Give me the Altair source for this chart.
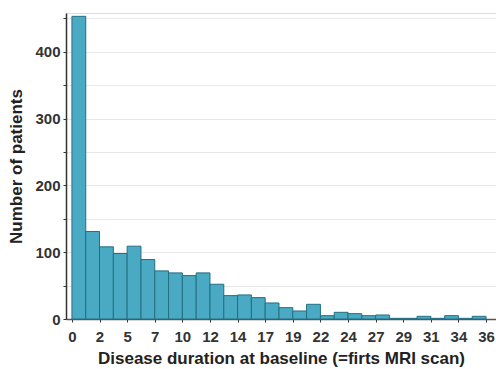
import altair as alt
import pandas as pd

counts = [453, 131, 108, 98, 109, 89, 72, 69, 65, 69, 52, 35, 36, 32, 24,
          17, 12, 22, 5, 10, 8, 5, 6, 1, 1, 4, 1, 5, 1, 4]
tick_labels = ["0", "2", "5", "7", "10", "12", "14", "17", "19", "22", "24",
               "27", "29", "31", "34", "36"]

df = pd.DataFrame({
    "start": list(range(len(counts))),
    "end": [i + 1 for i in range(len(counts))],
    "count": counts,
})

label_js = "[" + ",".join("'" + s + "'" for s in tick_labels) + "]"
font = "Liberation Sans"

bars = alt.Chart(df).mark_bar(
    color="#4aaac4", stroke="#236f82", strokeWidth=1, opacity=1
).encode(
    x=alt.X("start:Q",
            scale=alt.Scale(domain=[-0.43, 30.72], nice=False, zero=False),
            axis=alt.Axis(
                values=[2 * i for i in range(len(tick_labels))],
                labelExpr=label_js + "[datum.value/2]",
                title="Disease duration at baseline (=firts MRI scan)",
                grid=False, tickSize=3, labelPadding=7,
                labelFont=font, labelFontSize=15, labelFontWeight="bold",
                labelColor="#333333", titleFont=font, titleFontSize=17,
                titleFontWeight="bold", titleColor="#222222", titlePadding=6,
                domainColor="#555555", domainWidth=1.5, tickColor="#333333",
                labelFlush=False, labelOverlap=False)),
    x2="end:Q",
    y=alt.Y("count:Q",
            scale=alt.Scale(domain=[0, 458], nice=False),
            axis=alt.Axis(
                values=[50 * i for i in range(10)],
                labelExpr="datum.value % 100 == 0 ? datum.label : ''",
                title="Number of patients",
                grid=True, gridColor="#e8e8e8", tickSize=3, labelPadding=3,
                labelFont=font, labelFontSize=15, labelFontWeight="bold",
                labelColor="#333333", titleFont=font, titleFontSize=17,
                titleFontWeight="bold", titleColor="#222222", titlePadding=9,
                domainColor="#333333", domainWidth=1.5, tickColor="#333333")),
    y2=alt.datum(0),
)

chart = bars.properties(
    width=430, height=306,
    autosize=alt.AutoSizeParams(type="none"),
    padding={"left": 66, "top": 13, "right": 0, "bottom": 50},
).configure_view(stroke=None).configure(background="white")

chart.save("out.html", embed_options={"renderer": "svg", "actions": False})
